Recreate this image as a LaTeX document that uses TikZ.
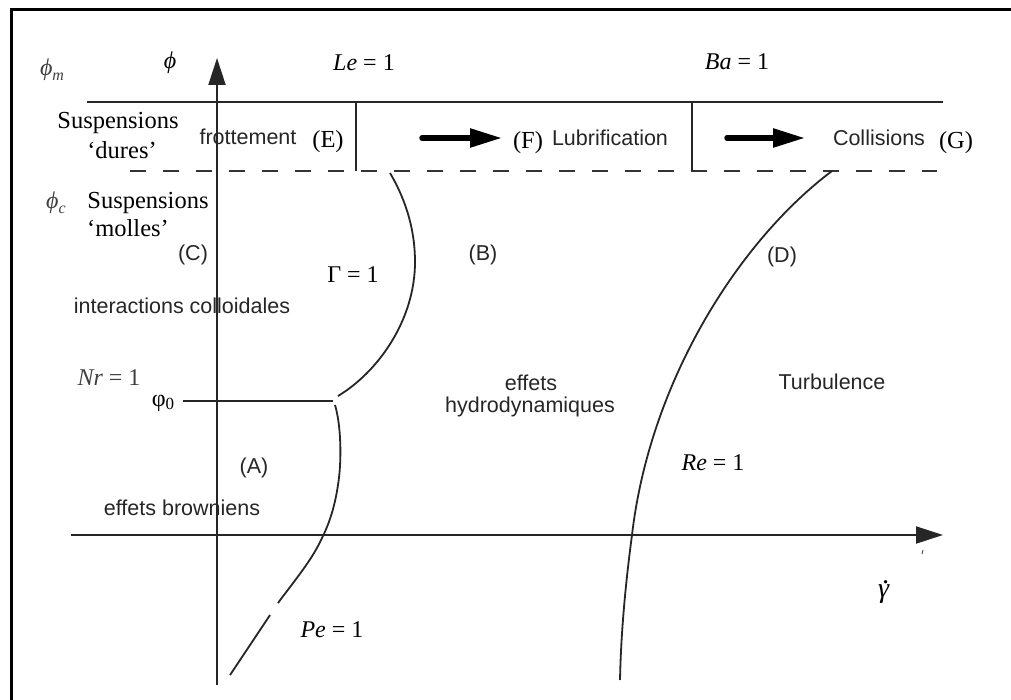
\documentclass[tikz,border=0pt]{standalone}
\usepackage{fontspec}
\setmainfont{Liberation Serif}
\setsansfont{Liberation Sans}
\usetikzlibrary{arrows.meta}
\begin{document}
\begin{tikzpicture}[x=1pt,y=-1pt,
  sanslbl/.style={font=\sffamily\fontsize{21.5}{24}\selectfont, inner sep=0pt, text=black!85},
  serlbl/.style={font=\fontsize{24.5}{27}\selectfont, inner sep=0pt},
  mathlbl/.style={font=\fontsize{24}{27}\selectfont, inner sep=0pt},
  graylbl/.style={mathlbl, text=black!75},
  lin/.style={line width=2pt, draw=black!85},
  curve/.style={line width=1.8pt, draw=black!85},
  axisarrow/.style={lin, -{Triangle[length=27pt,width=17pt]}},
  fatarrow/.style={line width=5.5pt, line cap=round, -{Triangle[length=32pt,width=18pt]}},
  dashline/.style={line width=2pt, draw=black!80, dash pattern=on 16pt off 17pt}
]
\useasboundingbox (0,0) rectangle (1011,700);
\fill[white] (0,0) rectangle (1011,700);

% frame (top and left)
\coordinate (fTL) at (11,10);
\coordinate (fTR) at (1011,10);
\coordinate (fBL) at (11,700);
\draw[line width=3pt] (fTR) -- (fTL) -- (fBL);

% axes
\coordinate (yb) at (217,685);
\coordinate (yt) at (217,58);
\coordinate (xl) at (71,535);
\coordinate (xr) at (943,535);
\draw[axisarrow] (yb) -- (yt);
\draw[axisarrow] (xl) -- (xr);
\coordinate (tk1) at (923,550);
\coordinate (tk2) at (922,554);
\draw[line width=1pt, black!70] (tk1) -- (tk2);

% top band lines
\coordinate (solL) at (87,102);
\coordinate (solR) at (943,102);
\draw[lin] (solL) -- (solR);
\coordinate (dshL) at (130,171);
\coordinate (dshR) at (937,171);
\draw[dashline] (dshL) -- (dshR);
\coordinate (s1t) at (356,102);
\coordinate (s1b) at (356,171);
\coordinate (s2t) at (692,102);
\coordinate (s2b) at (692,171);
\draw[lin] (s1t) -- (s1b);
\draw[lin] (s2t) -- (s2b);

% fat arrows
\coordinate (a1s) at (422,138);
\coordinate (a1e) at (502,138);
\coordinate (a2s) at (727,138);
\coordinate (a2e) at (805,138);
\draw[fatarrow] (a1s) -- (a1e);
\draw[fatarrow] (a2s) -- (a2e);

% Gamma = 1 curve
\coordinate (g0) at (390,173);
\coordinate (g1) at (415,262);
\coordinate (g2) at (338,396);
\draw[curve] (g0) .. controls (403,195) and (415,225) .. (g1)
                  .. controls (415,320) and (378,372) .. (g2);

% phi0 line
\coordinate (p0L) at (183,401);
\coordinate (p0R) at (333,401);
\draw[lin] (p0L) -- (p0R);

% Pe = 1 curve
\coordinate (pe0) at (335,405);
\coordinate (pe1) at (338,485);
\coordinate (pe2) at (322,538);
\coordinate (pe3) at (278,603);
\coordinate (pe4) at (270,615);
\coordinate (pe5) at (230,675);
\draw[curve] (pe0) .. controls (341,425) and (342,460) .. (pe1)
                   .. controls (335,505) and (330,522) .. (pe2)
                   .. controls (312,560) and (295,580) .. (pe3);
\draw[curve] (pe4) -- (pe5);

% Re = 1 curve
\coordinate (r0) at (832,171);
\coordinate (r1) at (632,535);
\coordinate (r2) at (620,680);
\draw[curve] (r0) .. controls (740,240) and (650,380) .. (r1)
                  .. controls (626,580) and (621,630) .. (r2);

% labels
\node[graylbl] (phim) at (52,70) {\textit{ϕ}\raisebox{-0.4ex}{\fontsize{16}{18}\selectfont\textit{m}}};
\node[mathlbl] (phi) at (170,63) {\textit{ϕ}};
\node[mathlbl] (Le) at (364,63) {\textit{Le} = 1};
\node[mathlbl] (Ba) at (737,62) {\textit{Ba} = 1};
\node[serlbl] (susp1) at (118,123) {Suspensions};
\node[serlbl] (dures) at (122,150) {‘dures’};
\node[sanslbl] (frott) at (248,137) {frottement};
\node[serlbl] (E) at (328,142) {(E)};
\node[serlbl] (F) at (528,143) {(F)};
\node[sanslbl] (lubr) at (610,138) {Lubrification};
\node[sanslbl] (coll) at (879,138) {Collisions};
\node[serlbl] (G) at (956,143) {(G)};
\node[graylbl] (phic) at (56,203) {\textit{ϕ}\raisebox{-0.4ex}{\fontsize{16}{18}\selectfont\textit{c}}};
\node[serlbl] (susp2) at (148,203) {Suspensions};
\node[serlbl] (molles) at (128,228) {‘molles’};
\node[sanslbl] (C) at (193,255) {(C)};
\node[mathlbl] (Gam) at (353,275) {Γ = 1};
\node[sanslbl] (B) at (483,255) {(B)};
\node[sanslbl] (D) at (782,257) {(D)};
\node[sanslbl] (inter) at (182,306) {interactions colloidales};
\node[graylbl] (Nr) at (109,378) {\textit{Nr} = 1};
\node[mathlbl] (phi0) at (163,403) {φ\raisebox{-0.35ex}{\fontsize{17}{19}\selectfont 0}};
\node[sanslbl] (eff) at (531,383) {effets};
\node[sanslbl] (hydro) at (530,407) {hydrodynamiques};
\node[sanslbl] (turb) at (832,382) {Turbulence};
\node[sanslbl] (A) at (254,468) {(A)};
\node[sanslbl] (brown) at (182,508) {effets browniens};
\node[mathlbl] (Re) at (713,463) {\textit{Re} = 1};
\node[mathlbl] (gdot) at (884,592) {\fontsize{28}{30}\selectfont\textit{γ}\kern-0.24em\raisebox{0.52em}{\textit{.}}};
\node[mathlbl] (Pe) at (332,630) {\textit{Pe} = 1};
\end{tikzpicture}
\end{document}
